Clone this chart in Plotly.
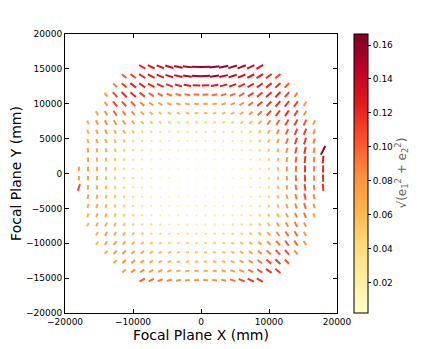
import math
import plotly.graph_objects as go
from plotly.colors import sample_colorscale

# grid of whisker centres (mm)
X_CENTERS = [-17955, -16625, -15295, -13965, -12635, -11305, -9975, -8645, -7315, -5985,
             -4655, -3325, -1995, -665, 665, 1995, 3325, 4655, 5985, 7315,
             8645, 9975, 11305, 12635, 13965, 15295, 16625, 17955]
Y_CENTERS = [15295, 13965, 12635, 11305, 9975, 8645, 7315, 5985, 4655, 3325, 1995, 665,
             -665, -1995, -3325, -4655, -5985, -7315, -8645, -9975, -11305, -12635, -13965, -15295]
# index in X_CENTERS of the first whisker of each row
ROW_FIRST_COL = [7, 5, 4, 3, 3, 2, 1, 1, 1, 1, 1, 0, 0, 0, 1, 1, 1, 1, 2, 2, 3, 4, 5, 7]

# ellipticity sqrt(e1^2 + e2^2), in units of 0.001, one list per row (top to bottom)
E_BY_ROW = [
    [120, 125, 130, 140, 145, 150, 155, 160, 160, 155, 150, 145, 135, 130],
    [100, 110, 120, 125, 130, 135, 140, 145, 150, 150, 150, 145, 140, 135, 130, 125, 120, 110],
    [90, 110, 120, 120, 120, 120, 120, 120, 125, 125, 125, 125, 125, 125, 120, 120, 120, 120, 115, 105],
    [80, 110, 120, 120, 110, 100, 95, 95, 95, 95, 95, 95, 95, 95, 95, 100, 110, 115, 120, 120, 110, 90],
    [80, 110, 105, 100, 90, 80, 75, 75, 75, 75, 75, 75, 75, 75, 80, 85, 95, 110, 115, 120, 115, 110, 80],
    [75, 85, 100, 90, 85, 75, 65, 60, 60, 60, 60, 60, 60, 60, 60, 65, 70, 80, 95, 110, 115, 115, 110, 85],
    [70, 80, 85, 85, 80, 70, 60, 55, 50, 48, 45, 45, 45, 45, 45, 45, 48, 55, 60, 70, 90, 100, 110, 110, 105, 80],
    [70, 75, 75, 70, 65, 55, 48, 42, 38, 35, 35, 35, 35, 35, 35, 35, 38, 42, 48, 55, 70, 85, 100, 110, 110, 85],
    [70, 72, 70, 62, 55, 45, 38, 32, 28, 25, 25, 25, 25, 25, 25, 25, 28, 32, 40, 48, 60, 75, 95, 110, 115, 90],
    [75, 70, 65, 58, 48, 40, 32, 25, 20, 18, 16, 16, 16, 16, 16, 16, 18, 22, 30, 40, 52, 65, 85, 105, 115, 90, 160],
    [75, 70, 62, 55, 45, 36, 28, 20, 15, 12, 10, 10, 10, 10, 10, 10, 12, 16, 24, 34, 46, 60, 80, 100, 115, 90, 125],
    [75, 75, 68, 60, 52, 42, 33, 25, 18, 12, 9, 7, 6, 6, 6, 6, 7, 9, 14, 22, 32, 44, 58, 78, 98, 115, 90, 120],
    [75, 75, 68, 60, 50, 40, 32, 24, 17, 11, 8, 6, 5, 5, 5, 5, 6, 8, 13, 20, 30, 42, 56, 75, 95, 112, 88, 120],
    [110, 75, 68, 60, 50, 42, 33, 25, 18, 12, 9, 7, 7, 7, 7, 7, 8, 10, 14, 21, 30, 42, 56, 74, 92, 110, 88, 118],
    [72, 70, 62, 54, 45, 36, 28, 21, 15, 12, 11, 11, 11, 11, 11, 12, 14, 18, 25, 34, 45, 58, 74, 90, 105, 85],
    [70, 70, 64, 56, 48, 40, 32, 26, 21, 18, 17, 17, 17, 17, 17, 18, 20, 24, 30, 38, 48, 60, 74, 88, 98, 78],
    [66, 70, 66, 60, 52, 44, 37, 31, 27, 24, 23, 23, 23, 23, 24, 25, 27, 31, 37, 44, 53, 64, 76, 88, 94, 72],
    [62, 68, 70, 64, 56, 48, 42, 37, 33, 30, 29, 29, 29, 30, 31, 32, 35, 39, 45, 52, 62, 74, 86, 92, 80],
    [66, 74, 70, 64, 56, 50, 45, 41, 38, 37, 36, 36, 37, 38, 40, 43, 48, 54, 62, 72, 84, 94, 96, 80],
    [60, 74, 76, 70, 64, 58, 53, 49, 46, 45, 44, 44, 45, 46, 48, 52, 57, 63, 72, 82, 94, 102, 98, 80],
    [66, 80, 80, 74, 68, 62, 58, 55, 53, 52, 52, 53, 54, 56, 60, 65, 72, 82, 94, 106, 104, 86],
    [72, 82, 80, 74, 68, 65, 62, 60, 60, 60, 60, 62, 64, 68, 74, 82, 94, 106, 112, 102],
    [76, 86, 82, 78, 75, 72, 70, 69, 69, 70, 71, 74, 78, 85, 94, 104, 114, 110],
    [100, 95, 90, 86, 82, 80, 80, 80, 82, 86, 94, 106, 115, 115],
]

# whisker orientation in degrees from horizontal, one list per row
ANGLE_BY_ROW = [
    [-30, -26, -21, -17, -12, -7, -2, 2, 7, 12, 17, 21, 26, 30],
    [-39, -36, -32, -28, -23, -18, -13, -8, -3, 3, 8, 13, 18, 23, 28, 32, 36, 39],
    [-45, -42, -38, -34, -30, -25, -20, -15, -9, -3, 3, 9, 15, 20, 25, 30, 34, 38, 42, 45],
    [-51, -48, -45, -41, -37, -33, -28, -22, -16, -10, -3, 3, 10, 16, 22, 28, 33, 37, 41, 45, 48, 51],
    [-55, -52, -49, -45, -41, -36, -31, -25, -18, -11, -4, 4, 11, 18, 25, 31, 36, 41, 45, 49, 52, 55, 57],
    [-60, -58, -56, -53, -49, -45, -40, -35, -28, -21, -13, -4, 4, 13, 21, 28, 35, 40, 45, 49, 53, 56, 58, 60],
    [-66, -64, -62, -60, -57, -54, -50, -45, -39, -33, -24, -15, -5, 5, 15, 24, 33, 39, 45, 50, 54, 57, 60, 62, 64, 66],
    [-70, -69, -67, -65, -62, -59, -55, -51, -45, -38, -29, -18, -6, 6, 18, 29, 38, 45, 51, 55, 59, 62, 65, 67, 69, 70],
    [-74, -73, -72, -70, -68, -65, -62, -58, -52, -45, -36, -23, -8, 8, 23, 36, 45, 52, 58, 62, 65, 68, 70, 72, 73, 74],
    [-79, -78, -77, -75, -74, -72, -69, -66, -61, -55, -45, -31, -11, 11, 31, 45, 55, 61, 66, 69, 72, 74, 75, 77, 78, 79, 63],
    [-83, -83, -82, -81, -80, -79, -77, -75, -72, -67, -59, -45, -18, 18, 45, 59, 67, 72, 75, 77, 79, 80, 81, 82, 83, 83, 84],
    [-88, -88, -88, -87, -87, -87, -86, -86, -85, -84, -82, -79, -72, -45, 45, 72, 79, 82, 84, 85, 86, 86, 87, 87, 87, 88, 88, 88],
    [88, 88, 88, 87, 87, 87, 86, 86, 85, 84, 82, 79, 72, 45, -45, -72, -79, -82, -84, -85, -86, -86, -87, -87, -87, -88, -88, -88],
    [72, 83, 83, 82, 81, 80, 79, 77, 75, 72, 67, 59, 45, 18, -18, -45, -59, -67, -72, -75, -77, -79, -80, -81, -82, -83, -83, -84],
    [79, 78, 77, 75, 74, 72, 69, 66, 61, 55, 45, 31, 11, -11, -31, -45, -55, -61, -66, -69, -72, -74, -75, -77, -78, -79],
    [74, 73, 72, 70, 68, 65, 62, 58, 52, 45, 36, 23, 8, -8, -23, -36, -45, -52, -58, -62, -65, -68, -70, -72, -73, -74],
    [70, 69, 67, 65, 62, 59, 55, 51, 45, 38, 29, 18, 6, -6, -18, -29, -38, -45, -51, -55, -59, -62, -65, -67, -69, -70],
    [66, 64, 62, 60, 57, 54, 50, 45, 39, 33, 24, 15, 5, -5, -15, -24, -33, -39, -45, -50, -54, -57, -60, -62, -64],
    [60, 58, 56, 53, 49, 45, 40, 35, 28, 21, 13, 4, -4, -13, -21, -28, -35, -40, -45, -49, -53, -56, -58, -60],
    [57, 55, 52, 49, 45, 41, 36, 31, 25, 18, 11, 4, -4, -11, -18, -25, -31, -36, -41, -45, -49, -52, -55, -57],
    [51, 48, 45, 41, 37, 33, 28, 22, 16, 10, 3, -3, -10, -16, -22, -28, -33, -37, -41, -45, -48, -51],
    [45, 42, 38, 34, 30, 25, 20, 15, 9, 3, -3, -9, -15, -20, -25, -30, -34, -38, -42, -45],
    [39, 36, 32, 28, 23, 18, 13, 8, 3, -3, -8, -13, -18, -23, -28, -32, -36, -39],
    [30, 26, 21, 17, 12, 7, 2, -2, -7, -12, -17, -21, -26, -30],
]

X_TICKS = [-20000, -10000, 0, 10000, 20000]
Y_TICKS = [-20000, -15000, -10000, -5000, 0, 5000, 10000, 15000, 20000]
CB_TICKS = [0.02, 0.04, 0.06, 0.08, 0.10, 0.12, 0.14, 0.16]

E_MIN, E_MAX = 0.002, 0.1665
YLORRD = ['#ffffcc', '#ffeda0', '#fed976', '#feb24c', '#fd8d3c',
          '#fc4e2a', '#e31a1c', '#bd0026', '#800026']
SCALE = [[i / 8, c] for i, c in enumerate(YLORRD)]

# whisker length per unit ellipticity, in mm on the x axis
WHISKER_SCALE = 8900
MIN_LEN = 260
PX_X = 272 / 40000
PX_Y = 279 / 40000

# the page body has an 8px margin, so the figure is drawn 8px in from the corner
FIG_W, FIG_H = 428, 341
PLOT_L, PLOT_T = 57, 26


def tick_text(v):
    return str(v).replace('-', '\u2212')


# group whisker segments by colour so each colour is one trace
groups = {}
for yc, first, es, angs in zip(Y_CENTERS, ROW_FIRST_COL, E_BY_ROW, ANGLE_BY_ROW):
    for k, (e_milli, ang) in enumerate(zip(es, angs)):
        xc = X_CENTERS[first + k]
        e = e_milli / 1000
        half_px = max(e * WHISKER_SCALE, MIN_LEN) * PX_X / 2
        a = math.radians(ang)
        dx = half_px * math.cos(a) / PX_X
        dy = half_px * math.sin(a) / PX_Y
        t = min(max((e - E_MIN) / (E_MAX - E_MIN), 0), 1)
        t = round(t, 2)
        xs, ys = groups.setdefault(t, ([], []))
        xs += [xc - dx, xc + dx, None]
        ys += [yc - dy, yc + dy, None]

fig = go.Figure()
for t in sorted(groups):
    xs, ys = groups[t]
    color = sample_colorscale(SCALE, [t])[0]
    fig.add_trace(go.Scatter(
        x=xs, y=ys, mode='lines',
        line=dict(color=color, width=2),
        hoverinfo='skip', showlegend=False,
    ))

# colour bar only
fig.add_trace(go.Scatter(
    x=[None], y=[None], mode='markers', showlegend=False, hoverinfo='skip',
    marker=dict(
        color=[E_MIN], colorscale=SCALE, cmin=E_MIN, cmax=E_MAX, showscale=True,
        colorbar=dict(
            x=(354 - 65) / 272, xanchor='left', xpad=0, ypad=0,
            y=0.5, yanchor='middle', len=1.0, lenmode='fraction',
            thickness=14, outlinewidth=1, outlinecolor='black',
            tickvals=CB_TICKS, ticktext=['%.2f' % v for v in CB_TICKS],
            ticks='outside', ticklen=3, tickcolor='black',
            tickfont=dict(size=9, color='black'),
        ),
    ),
))

fig.add_annotation(
    x=(412 - 65) / 272, y=0.5, xref='paper', yref='paper',
    text='\u221a(e<sub>1</sub><sup>2</sup> + e<sub>2</sub><sup>2</sup>)',
    textangle=-90, showarrow=False,
    font=dict(size=12, color='#666666'),
)

axis_style = dict(
    showgrid=False, zeroline=False, showline=True, linecolor='black', linewidth=1,
    mirror='ticks', ticks='inside', ticklen=4, tickcolor='black',
    tickfont=dict(size=9, color='black'), automargin=False,
)

fig.update_xaxes(
    range=[-20000, 20000], tickvals=X_TICKS, ticktext=[tick_text(v) for v in X_TICKS],
    title=dict(text='Focal Plane X (mm)', font=dict(size=14, color='black'), standoff=3),
    **axis_style,
)
fig.update_yaxes(
    range=[-20000, 20000], tickvals=Y_TICKS, ticktext=[tick_text(v) for v in Y_TICKS],
    title=dict(text='Focal Plane Y (mm)', font=dict(size=14, color='black'), standoff=4),
    **axis_style,
)

fig.update_layout(
    width=FIG_W, height=FIG_H,
    margin=dict(l=PLOT_L, r=FIG_W - PLOT_L - 272, t=PLOT_T, b=FIG_H - PLOT_T - 279),
    paper_bgcolor='white', plot_bgcolor='white',
    font=dict(family='DejaVu Sans'),
    showlegend=False,
)

fig.write_html('out.html')
